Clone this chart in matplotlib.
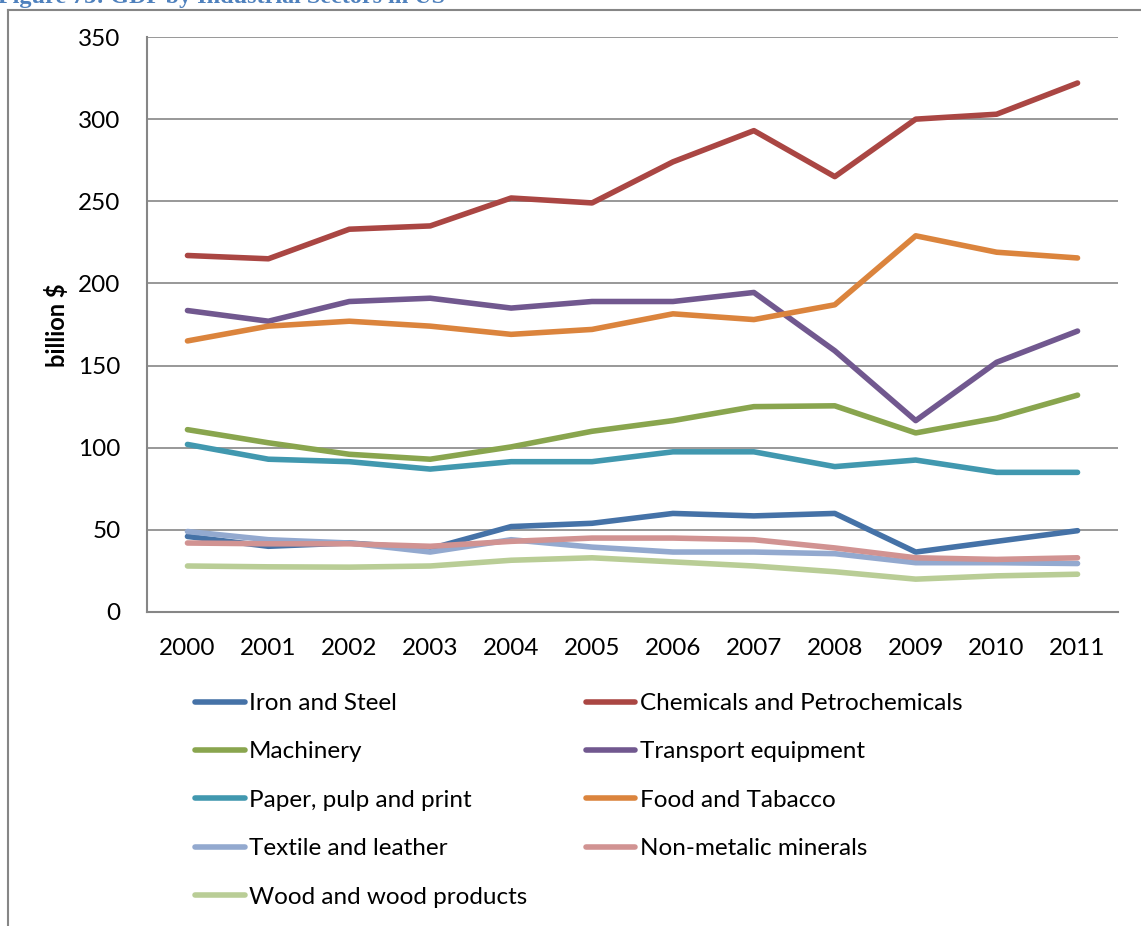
import matplotlib.pyplot as plt
from matplotlib.lines import Line2D
import numpy as np

# data #########################################################################
years = list(range(2000, 2012))

iron_steel   = [46, 40, 42, 38.5, 52, 54, 60, 58.5, 60, 36.5, 43, 49.5]
chemicals    = [217, 215, 233, 235, 252, 249, 274, 293, 265, 300, 303, 322]
machinery    = [111, 103, 96, 93, 100.5, 110, 116.5, 125, 125.5, 109, 118, 132]
transport    = [183.5, 177, 189, 191, 185, 189, 189, 194.5, 159, 116.5, 152, 171]
paper        = [102, 93, 91.5, 87, 91.5, 91.5, 97.5, 97.5, 88.5, 92.5, 85, 85]
food         = [165, 174, 177, 174, 169, 172, 181.5, 178, 187, 229, 219, 215.5]
textile      = [49, 44, 42, 36.5, 44, 39.5, 36.5, 36.5, 35.5, 30, 30, 29.5]
non_metallic = [42, 41.5, 41.5, 40, 43, 45, 45, 44, 39, 33, 32, 33]
wood         = [28, 27.5, 27.3, 28, 31.5, 33, 30.5, 28, 24.5, 20, 22, 23]

series = [
    ("Iron and Steel", iron_steel, "#4572A7"),
    ("Chemicals and Petrochemicals", chemicals, "#AA4643"),
    ("Machinery", machinery, "#89A54E"),
    ("Transport equipment", transport, "#71588F"),
    ("Paper, pulp and print", paper, "#4198AF"),
    ("Food and Tabacco", food, "#DB843D"),
    ("Textile and leather", textile, "#93A9CF"),
    ("Non-metalic minerals", non_metallic, "#D19392"),
    ("Wood and wood products", wood, "#B9CD96"),
]

# init #########################################################################
plt.rcParams['font.family'] = ['Lato', 'DejaVu Sans']
W, H = 1141, 926
fig = plt.figure(figsize=(W / 100, H / 100), dpi=100)
ax = fig.add_axes([147 / W, (H - 612) / H, (1118 - 147) / W, (612 - 37) / H])

grid_c = '#868686'

# lines ########################################################################
handles = []
x = np.arange(len(years))
for name, vals, c in series:
    h, = ax.plot(x, vals, '-', c=c, lw=4.0, label=name,
                 solid_capstyle='round', solid_joinstyle='round')
    handles.append(h)

# axis #########################################################################
ax.set_xlim(-0.5, len(years) - 0.5)
ax.set_ylim(0, 350)
ax.set_yticks(range(0, 351, 50))
ax.set_xticks(x)
ax.set_xticklabels([str(y) for y in years])
ax.yaxis.grid(True, color=grid_c, lw=1.2)
ax.set_axisbelow(True)
ax.tick_params(axis='both', length=0, labelsize=17.5)
ax.tick_params(axis='y', pad=19)
ax.tick_params(axis='x', pad=19)
for s in ('top', 'right'):
    ax.spines[s].set_visible(False)
for s in ('left', 'bottom'):
    ax.spines[s].set_color(grid_c)
    ax.spines[s].set_linewidth(1.5)
ax.set_ylabel("billion $", fontsize=17, fontweight='bold')
ax.yaxis.set_label_coords((69 - 147) / (1118 - 147), (612 - 325) / (612 - 37))

# legend: 5 rows in first column, 4 in second
order = [0, 2, 4, 6, 8, 1, 3, 5, 7]
fig.legend([handles[i] for i in order], [series[i][0] for i in order],
           ncol=2, loc='upper left', bbox_to_anchor=(195 / W, 1 - 693 / H),
           frameon=False, fontsize=17.5, handlelength=2.05, handletextpad=0.17,
           columnspacing=2.4, labelspacing=1.13, borderaxespad=0, borderpad=0)

# chart frame
fig.add_artist(Line2D([8 / W, 8 / W], [0, 1 - 10 / H], color=grid_c, lw=1.5))
fig.add_artist(Line2D([8 / W, 1], [1 - 10 / H, 1 - 10 / H], color=grid_c, lw=1.5))

# caption cut by the top edge
fig.text(-2 / W, 1 - 3 / H, "Figure 73: GDP by Industrial Sectors in US",
         family='Liberation Serif', fontweight='bold', fontsize=17.4,
         color='#4F81BD', va='baseline', ha='left')

fig.savefig("out.png", dpi=100)
